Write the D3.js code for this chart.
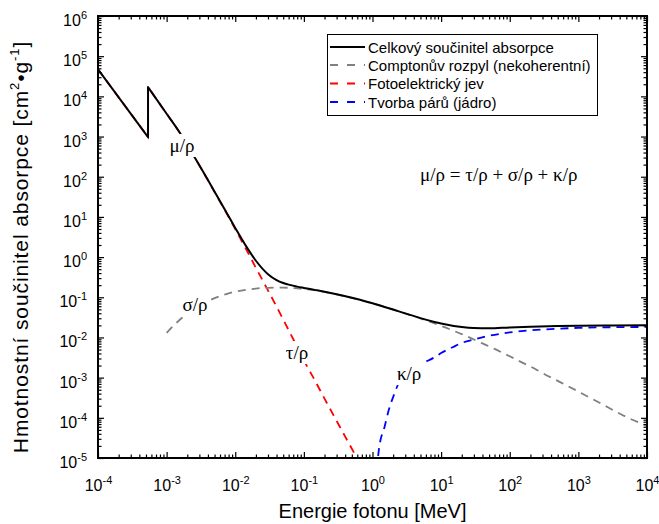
<!DOCTYPE html>
<html>
<head>
<meta charset="utf-8">
<script src="https://cdn.jsdelivr.net/npm/d3@7"></script>
<style>
  body { margin: 0; background: #fff; }
  svg { display: block; }
</style>
</head>
<body>
<svg id="chart" width="659" height="524"></svg>
<script>
// Photon energy (MeV) and mass attenuation coefficients (cm^2/g)
const totalEnergy = [1e-4, 5.36e-4, 5.36e-4, 1e-3, 1.5e-3, 2e-3, 3e-3, 4e-3, 5e-3, 6e-3, 8e-3,
  1e-2, 1.5e-2, 2e-2, 3e-2, 4e-2, 5e-2, 6e-2, 8e-2, 0.1, 0.15, 0.2, 0.3, 0.5, 0.8, 1, 1.5, 2, 3,
  5, 8, 10, 20, 30, 50, 100, 200, 500, 1000, 3000, 10000];
const totalValue = [4.7e4, 970, 1.7e4, 3.7e3, 1.37e3, 615, 192, 82.5, 42.5, 24.6, 10.4,
  5.33, 1.67, 0.81, 0.376, 0.268, 0.227, 0.206, 0.184, 0.171, 0.1505, 0.137, 0.1186, 0.0969, 0.0787, 0.0707, 0.0575, 0.0494, 0.0397,
  0.0303, 0.0243, 0.0222, 0.0181, 0.0171, 0.0169, 0.0178, 0.0185, 0.0192, 0.0196, 0.0199, 0.0201];

const comptonEnergy = [1e-3, 1.5e-3, 2e-3, 3e-3, 4e-3, 5e-3, 6e-3, 8e-3, 1e-2, 1.5e-2, 2e-2, 3e-2,
  4e-2, 5e-2, 6e-2, 8e-2, 0.1, 0.15, 0.2, 0.3, 0.4, 0.5, 0.6, 0.8, 1, 1.5, 2, 3, 4, 5, 6, 8, 10,
  15, 20, 30, 40, 50, 60, 80, 100, 150, 200, 300, 500, 1000, 2000, 5000, 10000];
const comptonValue = [0.0130, 0.026, 0.039, 0.061, 0.080, 0.095, 0.107, 0.125, 0.138, 0.155, 0.165, 0.172,
  0.174, 0.174, 0.172, 0.167, 0.161, 0.148, 0.136, 0.118, 0.105, 0.0965, 0.0894, 0.0785, 0.0706, 0.0574, 0.0492, 0.0394, 0.0336, 0.0296, 0.0266, 0.0223, 0.0194,
  0.0148, 0.0121, 0.0089, 0.0071, 0.0060, 0.0052, 0.0041, 0.0034, 0.0024, 0.0019, 0.0013, 8.3e-4, 4.5e-4, 2.4e-4, 1.05e-4, 6.3e-5];

const photoEnergy = [1e-4, 5.36e-4, 5.36e-4, 1e-3, 1.5e-3, 2e-3, 3e-3, 4e-3, 5e-3, 6e-3, 8e-3,
  1e-2, 1.5e-2, 2e-2, 3e-2, 4e-2, 5e-2, 6e-2, 8e-2, 0.1, 0.15, 0.2, 0.3, 0.4, 0.5, 0.6];
const photoValue = [4.7e4, 970, 1.7e4, 3.69e3, 1.365e3, 612, 190, 81.5, 41.8, 24.0, 10.0,
  4.95, 1.38, 0.54, 0.148, 0.0585, 0.028, 0.0152, 0.0058, 0.0027, 7.6e-4, 3.0e-4, 8.4e-5, 3.4e-5, 1.7e-5, 9.6e-6];

const pairEnergy = [1.15, 1.25, 1.5, 1.75, 2, 2.5, 3, 4, 5, 6, 8, 10, 15, 20, 30, 50, 100, 200, 500, 1000, 2000, 5000, 10000];
const pairValue = [5e-6, 1.8e-5, 6.0e-5, 1.7e-4, 3.3e-4, 8.3e-4, 1.2e-3, 1.7e-3, 2.15e-3, 2.5e-3, 3.2e-3, 4.1e-3, 5.8e-3, 7.3e-3, 8.9e-3, 1.1e-2, 1.33e-2, 1.5e-2, 1.65e-2, 1.73e-2, 1.78e-2, 1.81e-2, 1.83e-2];

const xTickExponents = [-4, -3, -2, -1, 0, 1, 2, 3, 4];
const yTickExponents = [-5, -4, -3, -2, -1, 0, 1, 2, 3, 4, 5, 6];

const legendLabels = ["Celkový součinitel absorpce", "Comptonův rozpyl (nekoherentní)", "Fotoelektrický jev", "Tvorba párů (jádro)"];
const seriesColors = ["#000000", "#808080", "#ff0000", "#0000ff"];

// ---------------------------------------------------------------------------
const W = 659, H = 524;
const plot = { left: 98, top: 16, right: 647, bottom: 458 };
const sansFont = "'Liberation Sans', Arial, sans-serif";
const serifFont = "'Liberation Serif', 'Times New Roman', serif";

const svg = d3.select("#chart");
const x = d3.scaleLog().domain([1e-4, 1e4]).range([plot.left, plot.right]);
const y = d3.scaleLog().domain([1e-5, 1e6]).range([plot.bottom, plot.top]);

svg.append("defs").append("clipPath").attr("id", "plotClip")
  .append("rect")
  .attr("x", plot.left).attr("y", plot.top)
  .attr("width", plot.right - plot.left).attr("height", plot.bottom - plot.top);

// Zip energy/value arrays into points
const zip = (es, vs) => es.map((e, i) => ({ e, v: vs[i] }));

// Monotone curve between edges; a repeated energy marks an absorption edge (vertical jump)
const lineGen = d3.line().x(d => x(d.e)).y(d => y(d.v)).curve(d3.curveMonotoneX);
function seriesPath(points) {
  const segs = [[points[0]]];
  for (let i = 1; i < points.length; i++) {
    if (points[i].e === points[i - 1].e) segs.push([]);
    segs[segs.length - 1].push(points[i]);
  }
  return segs.map((s, i) => i ? lineGen(s).replace(/^M/, "L") : lineGen(s)).join("");
}

const lines = svg.append("g").attr("clip-path", "url(#plotClip)").attr("fill", "none");
const dash = "8,6";

lines.append("path").attr("d", seriesPath(zip(photoEnergy, photoValue)))
  .attr("stroke", seriesColors[2]).attr("stroke-width", 1.8).attr("stroke-dasharray", dash);
lines.append("path").attr("d", seriesPath(zip(comptonEnergy, comptonValue)))
  .attr("stroke", seriesColors[1]).attr("stroke-width", 1.8).attr("stroke-dasharray", dash);
lines.append("path").attr("d", seriesPath(zip(pairEnergy, pairValue)))
  .attr("stroke", seriesColors[3]).attr("stroke-width", 1.8).attr("stroke-dasharray", dash);
lines.append("path").attr("d", seriesPath(zip(totalEnergy, totalValue)))
  .attr("stroke", seriesColors[0]).attr("stroke-width", 2).attr("stroke-linejoin", "round");

// Curve labels on white boxes that interrupt the lines
function boxedLabel(txt, e, v, size) {
  const g = svg.append("g");
  const t = g.append("text")
    .attr("x", x(e)).attr("y", y(v))
    .attr("text-anchor", "middle")
    .attr("font-family", serifFont).attr("font-size", size)
    .attr("fill", "#000").text(txt);
  const b = t.node().getBBox();
  g.insert("rect", "text")
    .attr("x", b.x - 3).attr("y", b.y - 1)
    .attr("width", b.width + 6).attr("height", b.height + 2)
    .attr("fill", "#fff");
}
boxedLabel("μ/ρ", 1.68e-3, 412, 19);
boxedLabel("σ/ρ", 2.6e-3, 0.0455, 19);
boxedLabel("τ/ρ", 0.0796, 2.9e-3, 19);
boxedLabel("κ/ρ", 3.42, 8.7e-4, 19);

svg.append("text")
  .attr("x", x(4.94)).attr("y", y(78))
  .attr("font-family", serifFont).attr("font-size", 19)
  .text("μ/ρ = τ/ρ + σ/ρ + κ/ρ");

// Axes: inward major and minor ticks on all four sides
const majorX = xTickExponents.map(p => Math.pow(10, p));
const majorY = yTickExponents.map(p => Math.pow(10, p));
const minorsOf = (majors) => {
  const out = [];
  for (let i = 0; i < majors.length - 1; i++)
    for (let k = 2; k <= 9; k++) out.push(majors[i] * k);
  return out;
};
const minorX = minorsOf(majorX), minorY = minorsOf(majorY);
const majLen = 6, minLen = 3.5;

function tickAxis(axisFn, scale, values, len, transform) {
  const g = svg.append("g").attr("transform", transform)
    .call(axisFn(scale).tickValues(values).tickSize(-len).tickFormat(""));
  g.select(".domain").remove();
  g.selectAll(".tick line").attr("stroke", "#000").attr("stroke-width", 1.2);
  return g;
}
tickAxis(d3.axisBottom, x, minorX, minLen, `translate(0,${plot.bottom})`);
const xMajor = tickAxis(d3.axisBottom, x, majorX, majLen, `translate(0,${plot.bottom})`);
tickAxis(d3.axisTop, x, minorX, minLen, `translate(0,${plot.top})`);
tickAxis(d3.axisTop, x, majorX, majLen, `translate(0,${plot.top})`);
tickAxis(d3.axisLeft, y, minorY, minLen, `translate(${plot.left},0)`);
const yMajor = tickAxis(d3.axisLeft, y, majorY, majLen, `translate(${plot.left},0)`);
tickAxis(d3.axisRight, y, minorY, minLen, `translate(${plot.right},0)`);
tickAxis(d3.axisRight, y, majorY, majLen, `translate(${plot.right},0)`);

// Power-of-ten tick labels
function powerLabel(sel, exp) {
  sel.append("tspan").text("10");
  sel.append("tspan").attr("dy", -7).attr("font-size", 11).text(exp);
}
xMajor.selectAll(".tick").each(function (d) {
  const t = d3.select(this).append("text")
    .attr("x", 0).attr("y", 33).attr("dy", 0)
    .attr("text-anchor", "middle").attr("fill", "#000")
    .attr("font-family", sansFont).attr("font-size", 16);
  powerLabel(t, String(Math.round(Math.log10(d))));
});
yMajor.selectAll(".tick").each(function (d) {
  const t = d3.select(this).append("text")
    .attr("x", -11).attr("y", 9.5).attr("dy", 0)
    .attr("text-anchor", "end").attr("fill", "#000")
    .attr("font-family", sansFont).attr("font-size", 16);
  powerLabel(t, String(Math.round(Math.log10(d))));
});

// Plot frame
svg.append("rect")
  .attr("x", plot.left).attr("y", plot.top)
  .attr("width", plot.right - plot.left).attr("height", plot.bottom - plot.top)
  .attr("fill", "none").attr("stroke", "#000").attr("stroke-width", 2);

// Axis titles
svg.append("text")
  .attr("x", (plot.left + plot.right) / 2).attr("y", 518)
  .attr("text-anchor", "middle")
  .attr("font-family", sansFont).attr("font-size", 20)
  .text("Energie fotonu [MeV]");

const yTitle = svg.append("text")
  .attr("transform", `translate(28,247) rotate(-90)`)
  .attr("text-anchor", "middle")
  .attr("font-family", sansFont).attr("font-size", 21)
  .attr("letter-spacing", 0.9);
yTitle.append("tspan").text("Hmotnostní součinitel absorpce [cm");
yTitle.append("tspan").attr("dy", -9).attr("font-size", 13).text("2");
yTitle.append("tspan").attr("dy", 9).text("•g");
yTitle.append("tspan").attr("dy", -9).attr("font-size", 13).text("-1");
yTitle.append("tspan").attr("dy", 9).text("]");

// Legend
const legend = svg.append("g");
legend.append("rect")
  .attr("x", 327.5).attr("y", 34.5).attr("width", 270).attr("height", 81)
  .attr("fill", "#fff").attr("stroke", "#000").attr("stroke-width", 1);
const rowY = [47, 65, 83.5, 102];
legendLabels.forEach((label, i) => {
  const ln = legend.append("line")
    .attr("x1", 330).attr("x2", 365).attr("y1", rowY[i]).attr("y2", rowY[i])
    .attr("stroke", seriesColors[i]).attr("stroke-width", i === 0 ? 2 : 1.8);
  if (i > 0) ln.attr("stroke-dasharray", "8,9");
  legend.append("text")
    .attr("x", 368).attr("y", rowY[i] + 5.5)
    .attr("font-family", sansFont).attr("font-size", 15)
    .text(label);
});
</script>
</body>
</html>
